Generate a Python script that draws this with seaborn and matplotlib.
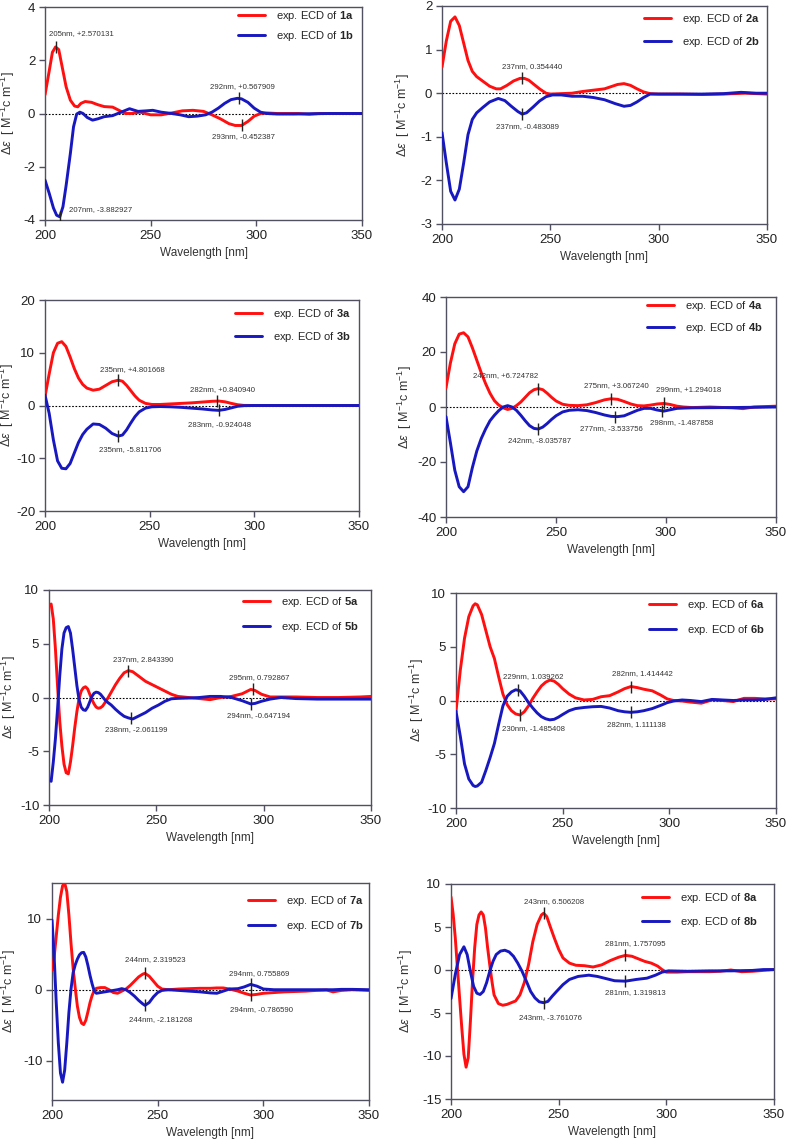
"""
Experimental ECD spectra of compounds 1a/1b ... 8a/8b, eight panels.
"""

import matplotlib
matplotlib.use("Agg")
import matplotlib.pyplot as plt
import seaborn as sns

# ---------------------------------------------------------------------------
# Spectra: wavelength (nm) and delta-epsilon values
# ---------------------------------------------------------------------------
WL_1A = [200, 202, 203.5, 205, 206.5, 208, 210, 212, 214, 215.5, 217, 219, 222, 225, 228, 232, 235, 238,
         241, 245, 250, 255, 260, 265, 270, 275, 279, 283, 287, 290, 293, 296, 299, 302, 305, 310, 320,
         325, 330, 340, 350]
DE_1A = [0.7, 1.6, 2.3, 2.5, 2.4, 1.8, 1.0, 0.5, 0.28, 0.25, 0.38, 0.45, 0.42, 0.33, 0.26, 0.24, 0.12, 0.0,
         0.0, 0.05, -0.05, -0.05, 0.02, 0.1, 0.12, 0.08, -0.05, -0.2, -0.38, -0.45, -0.45, -0.3, -0.1, 0.0,
         0.02, 0.0, 0.0, -0.03, 0.0, 0.0, 0.0]
WL_1B = [200, 202, 204, 205.5, 207, 208.5, 210, 212, 213.5, 215, 216.5, 218, 220, 222.5, 225, 228, 232, 236,
         240, 244, 248, 251, 255, 260, 264, 268, 272, 276, 279, 282, 285, 288, 291, 293, 296, 299, 302, 305,
         310, 318, 325, 335, 350]
DE_1B = [-2.5, -3.0, -3.55, -3.82, -3.88, -3.5, -2.7, -1.5, -0.5, -0.02, 0.05, 0.0, -0.15, -0.25, -0.2,
         -0.12, -0.08, 0.05, 0.18, 0.08, 0.1, 0.12, 0.05, 0.0, -0.05, -0.12, -0.1, -0.05, 0.05, 0.2, 0.38,
         0.52, 0.57, 0.55, 0.42, 0.2, 0.05, 0.0, -0.02, -0.02, -0.01, 0.0, 0.0]

WL_2A = [200, 202, 204, 206, 208, 210, 212, 214, 216, 219, 222, 225, 227, 230, 233, 236, 238, 240, 242, 245,
         248, 250, 255, 260, 265, 270, 275, 278, 281, 284, 287, 290, 293, 296, 300, 310, 320, 330, 340, 350]
DE_2A = [0.6, 1.2, 1.65, 1.75, 1.55, 1.15, 0.75, 0.5, 0.38, 0.27, 0.16, 0.1, 0.1, 0.18, 0.28, 0.34, 0.34,
         0.3, 0.22, 0.1, 0.0, -0.02, -0.01, 0.0, 0.04, 0.07, 0.1, 0.15, 0.2, 0.22, 0.18, 0.1, 0.03, -0.01,
         -0.02, -0.02, -0.03, -0.02, 0.0, -0.02]
WL_2B = [200, 202, 204, 206, 208, 210, 212, 214, 216, 219, 222, 226, 229, 232, 235, 237, 239, 242, 245, 248,
         251, 255, 260, 265, 270, 275, 280, 284, 287, 290, 293, 296, 300, 310, 320, 330, 338, 345, 350]
DE_2B = [-0.9, -1.6, -2.25, -2.45, -2.2, -1.6, -0.95, -0.6, -0.45, -0.32, -0.2, -0.12, -0.17, -0.3, -0.42,
         -0.48, -0.45, -0.32, -0.18, -0.08, -0.04, -0.04, -0.07, -0.07, -0.1, -0.15, -0.24, -0.3, -0.28,
         -0.2, -0.1, -0.02, -0.02, -0.02, -0.02, -0.01, 0.02, 0.0, 0.0]

WL_3 = [200, 202, 204, 206, 208, 210, 212, 214, 216, 218, 220, 223, 226, 229, 232, 235, 237, 239, 241, 243,
        245, 248, 251, 255, 260, 265, 270, 275, 280, 283, 286, 289, 292, 295, 300, 320, 350]
DE_3A = [1.7, 6, 10, 11.8, 12.1, 11.2, 9.2, 7, 5.2, 4, 3.3, 2.9, 3.1, 3.8, 4.5, 4.8, 4.6, 3.8, 2.8, 1.8,
         1.0, 0.4, 0.2, 0.2, 0.3, 0.4, 0.5, 0.65, 0.8, 0.84, 0.7, 0.4, 0.15, 0.02, 0.0, 0.0, 0.0]
DE_3B = [2.0, -1.5, -6.5, -10.5, -11.9, -12.0, -11, -9, -7, -5.5, -4.5, -3.5, -3.6, -4.3, -5.3, -5.8, -5.6,
         -4.6, -3.3, -2.1, -1.2, -0.5, -0.25, -0.2, -0.25, -0.35, -0.5, -0.65, -0.85, -0.92, -0.75, -0.45,
         -0.15, -0.03, 0.0, 0.0, 0.0]

WL_4 = [200, 202, 204, 206, 208, 210, 212, 214, 216, 218, 220, 222, 224, 226, 228, 230, 232, 234, 236, 238,
        240, 242, 244, 246, 248, 250, 253, 256, 260, 264, 268, 272, 275, 278, 281, 284, 287, 290, 293, 296,
        299, 302, 305, 308, 312, 320, 330, 335, 340, 350]
DE_4A = [7, 16, 23, 26.5, 27, 25.5, 21.5, 17, 12.5, 8.5, 5, 2.3, 0.7, -0.3, -0.9, -0.5, 0.5, 1.8, 3.5, 5.2,
         6.3, 6.7, 6.3, 5.0, 3.5, 2.2, 1.0, 0.6, 0.5, 0.8, 1.6, 2.6, 3.0, 2.8, 2.0, 1.1, 0.5, 0.4, 0.7, 1.1,
         1.3, 0.9, 0.3, 0.0, -0.2, 0.0, -0.3, -0.6, 0.0, 0.3]
DE_4B = [-3.5, -13, -23, -29, -30.8, -29, -22, -16, -11.5, -8, -5, -3, -1.3, 0, 0.5, 0, -1.2, -3.0, -5.0,
         -6.8, -7.8, -8.0, -7.3, -6.0, -4.5, -3.2, -1.8, -1.2, -1.0, -1.3, -2.0, -2.9, -3.4, -3.5, -3.2,
         -2.2, -1.2, -0.5, -0.5, -1.1, -1.5, -1.0, -0.5, -0.4, -0.3, -0.25, -0.2, -0.15, -0.1, 0.0]

WL_5 = [201, 202, 203, 204, 205, 206, 207, 208, 209, 210, 211, 212, 213, 214, 215, 216, 217, 218, 219, 220,
        221, 222, 223, 224, 225, 226, 227, 229, 231, 233, 235, 237, 239, 241, 243, 245, 248, 251, 254, 257,
        260, 265, 270, 275, 280, 285, 290, 292, 294, 296, 299, 303, 308, 315, 325, 335, 345, 350]
DE_5A = [8.7, 7.3, 4.5, 1.0, -2.2, -4.5, -6.2, -7.0, -7.1, -6.0, -4.5, -2.8, -1.3, -0.1, 0.6, 0.9, 1.0, 0.8,
         0.3, -0.2, -0.6, -0.9, -1.0, -0.95, -0.8, -0.5, -0.2, 0.5, 1.2, 1.8, 2.3, 2.5, 2.4, 2.1, 1.8, 1.5,
         1.2, 0.9, 0.6, 0.3, 0.1, 0.0, -0.1, -0.2, 0.0, 0.1, 0.35, 0.55, 0.75, 0.65, 0.3, 0.05, 0.05, 0.05,
         0.0, 0.0, 0.05, 0.1]
DE_5B = [-7.8, -6.0, -3.8, -1.0, 2.0, 4.5, 6.0, 6.5, 6.6, 6.0, 4.5, 2.8, 1.1, -0.2, -0.9, -1.15, -1.2, -0.9,
         -0.4, 0.1, 0.4, 0.5, 0.45, 0.3, 0.05, -0.2, -0.4, -0.7, -1.1, -1.45, -1.75, -1.9, -2.0, -1.8, -1.6,
         -1.4, -1.0, -0.7, -0.35, -0.12, -0.08, -0.05, 0.0, 0.1, 0.1, 0.0, -0.3, -0.45, -0.6, -0.55, -0.35,
         -0.15, 0.0, -0.1, -0.15, -0.15, -0.15, -0.15]

WL_6 = [200, 202, 204, 206, 208, 209, 210, 212, 214, 216, 218, 220, 222, 224, 226, 228, 230, 232, 234, 236,
        238, 240, 242, 244, 246, 248, 250, 253, 256, 260, 264, 268, 272, 276, 279, 282, 285, 288, 292, 296,
        299, 302, 306, 310, 315, 320, 325, 330, 335, 340, 345, 350]
DE_6A = [-1.0, 2.8, 5.8, 7.8, 8.8, 9.0, 8.9, 8.0, 6.5, 5.0, 3.9, 2.2, 0.6, -0.4, -0.95, -1.25, -1.35, -1.05,
         -0.5, 0.2, 0.8, 1.35, 1.7, 1.9, 1.8, 1.5, 1.1, 0.6, 0.25, 0.05, 0.1, 0.35, 0.45, 0.8, 1.1, 1.3,
         1.2, 1.05, 0.9, 0.5, 0.15, 0.0, -0.05, -0.15, -0.25, 0.05, 0.0, -0.1, 0.2, 0.2, 0.15, 0.15]
DE_6B = [-1.0, -3.3, -5.9, -7.3, -7.9, -8.0, -7.95, -7.6, -6.5, -5.3, -4.0, -2.2, -0.5, 0.4, 0.8, 1.0, 0.9,
         0.4, -0.2, -0.7, -1.15, -1.5, -1.7, -1.8, -1.75, -1.55, -1.3, -0.95, -0.75, -0.65, -0.58, -0.55,
         -0.7, -0.95, -1.05, -1.1, -1.05, -0.95, -0.75, -0.45, -0.2, -0.05, 0.05, 0.0, -0.1, 0.1, 0.05, 0.0,
         0.05, 0.05, 0.1, 0.25]

WL_7 = [200, 201, 202, 203, 204, 205, 206, 207, 208, 209, 210, 211, 212, 213, 214, 215, 216, 217, 218, 219,
        220, 221, 223, 225, 227, 229, 231, 233, 235, 237, 239, 241, 243, 244, 246, 248, 250, 252, 255, 260,
        265, 270, 275, 278, 281, 284, 288, 291, 294, 297, 300, 305, 310, 315, 320, 325, 330, 333, 337, 342,
        350]
DE_7A = [2.7, 4.5, 7.5, 10.5, 13, 14.6, 15.0, 13.8, 10.5, 6.5, 3.0, 0.2, -2.3, -3.9, -4.7, -4.9, -4.3, -3.1,
         -1.8, -0.8, -0.1, 0.2, 0.3, 0.3, 0.0, -0.4, -0.5, -0.2, 0.1, 0.6, 1.2, 1.8, 2.2, 2.3, 1.9, 1.2,
         0.5, 0.1, 0.0, 0.1, 0.15, 0.2, 0.2, 0.25, 0.25, 0.1, -0.2, -0.5, -0.75, -0.65, -0.5, -0.4, -0.3,
         -0.25, -0.2, -0.1, -0.05, -0.3, -0.1, 0.0, -0.1]
DE_7B = [9.8, 4.8, -1.8, -7.5, -11.7, -13.0, -11.3, -7.5, -3.2, 0.1, 2.4, 3.5, 4.3, 4.9, 5.2, 5.25, 4.6,
         3.4, 2.0, 0.8, -0.2, -0.5, -0.4, -0.3, -0.2, -0.1, 0.0, 0.15, 0.0, -0.4, -0.9, -1.5, -2.0, -2.2,
         -1.8, -1.0, -0.4, -0.1, 0.0, -0.1, -0.2, -0.3, -0.45, -0.5, -0.2, 0.1, 0.15, 0.4, 0.75, 0.5, 0.1,
         0.0, 0.0, 0.0, 0.0, 0.0, 0.0, 0.0, 0.05, 0.05, 0.0]

WL_8A = [200, 201, 202, 203, 204, 205, 206, 207, 208, 209, 210, 211, 212, 213, 214, 215, 216, 217, 218, 219,
         220, 222, 224, 226, 228, 230, 232, 234, 236, 238, 240, 242, 243, 244.5, 246, 248, 250, 252, 255, 258,
         262, 266, 270, 274, 278, 281, 284, 287, 290, 293, 296, 298, 300, 305, 310, 315, 320, 325, 330, 335,
         340, 345, 350]
DE_8A = [8.5, 6.5, 3.7, 0.2, -3.3, -6.7, -9.8, -11.3, -10.2, -6.0, -1.3, 2.6, 5.3, 6.4, 6.75, 6.4, 4.9, 2.6,
         0.6, -1.3, -2.9, -3.9, -4.1, -4.0, -3.8, -3.6, -2.9, -1.5, 0.6, 3.3, 5.3, 6.4, 6.6, 6.2, 5.1, 3.7,
         2.4, 1.4, 0.8, 0.55, 0.5, 0.35, 0.6, 1.1, 1.5, 1.7, 1.6, 1.3, 1.0, 0.8, 0.45, 0.05, -0.25, -0.25,
         -0.2, -0.2, -0.2, -0.15, 0.0, -0.2, -0.15, -0.05, 0.05]
WL_8B = [200, 202, 204, 206, 207.5, 209, 210.5, 212, 213.5, 215, 216.5, 218, 219.5, 221, 223, 225, 227, 229,
         231, 233, 235, 237, 239, 241, 243, 245, 247, 249, 252, 255, 259, 264, 268, 272, 276, 281, 286, 291,
         295, 298, 301, 310, 320, 330, 340, 345, 350]
DE_8B = [-3.33, -0.5, 1.8, 2.7, 1.8, -0.15, -1.9, -2.7, -2.85, -2.5, -1.5, -0.15, 1.0, 1.8, 2.2, 2.3, 2.1,
         1.6, 0.8, -0.15, -1.3, -2.5, -3.25, -3.7, -3.8, -3.65, -3.05, -2.5, -1.7, -1.1, -0.75, -0.6, -0.75,
         -1.0, -1.25, -1.3, -1.1, -0.95, -0.6, -0.25, -0.1, -0.15, -0.1, -0.1, -0.05, 0.05, 0.05]

# Marked extrema (wavelength, value on the curve) and their labels
MARK_NM_1 = [205, 207, 292, 293]
MARK_DE_1 = [2.5, -3.88, 0.57, -0.45]
MARK_TXT_1 = ["205nm, +2.570131", "207nm, -3.882927", "292nm, +0.567909", "293nm, -0.452387"]
MARK_NM_2 = [237, 237]
MARK_DE_2 = [0.34, -0.48]
MARK_TXT_2 = ["237nm, 0.354440", "237nm, -0.483089"]
MARK_NM_3 = [235, 282, 283, 235]
MARK_DE_3 = [4.8, 0.84, -0.92, -5.8]
MARK_TXT_3 = ["235nm, +4.801668", "282nm, +0.840940", "283nm, -0.924048", "235nm, -5.811706"]
MARK_NM_4 = [242, 275, 299, 242, 277, 298]
MARK_DE_4 = [6.7, 3.0, 1.3, -8.0, -3.5, -1.5]
MARK_TXT_4 = ["242nm, +6.724782", "275nm, +3.067240", "299nm, +1.294018",
              "242nm, -8.035787", "277nm, -3.533756", "298nm, -1.487858"]
MARK_NM_5 = [237, 295, 238, 294]
MARK_DE_5 = [2.5, 0.75, -1.95, -0.6]
MARK_TXT_5 = ["237nm, 2.843390", "295nm, 0.792867", "238nm, -2.061199", "294nm, -0.647194"]
MARK_NM_6 = [229, 282, 230, 282]
MARK_DE_6 = [1.0, 1.3, -1.35, -1.1]
MARK_TXT_6 = ["229nm, 1.039262", "282nm, 1.414442", "230nm, -1.485408", "282nm, 1.111138"]
MARK_NM_7 = [244, 294, 244, 294]
MARK_DE_7 = [2.3, 0.75, -2.2, -0.75]
MARK_TXT_7 = ["244nm, 2.319523", "294nm, 0.755869", "244nm, -2.181268", "294nm, -0.786590"]
MARK_NM_8 = [243, 281, 243, 281]
MARK_DE_8 = [6.6, 1.7, -3.8, -1.3]
MARK_TXT_8 = ["243nm, 6.506208", "281nm, 1.757095", "243nm, -3.761076", "281nm, 1.319813"]

YTICKS_1 = [-4, -2, 0, 2, 4]
YTICKS_2 = [-3, -2, -1, 0, 1, 2]
YTICKS_3 = [-20, -10, 0, 10, 20]
YTICKS_4 = [-40, -20, 0, 20, 40]
YTICKS_5 = [-10, -5, 0, 5, 10]
YTICKS_6 = [-10, -5, 0, 5, 10]
YTICKS_7 = [-10, 0, 10]
YTICKS_8 = [-15, -10, -5, 0, 5, 10]
XTICKS = [200, 250, 300, 350]

# ---------------------------------------------------------------------------
# Layout (figure pixels) and label offsets (pixels)
# box = axes (left, top, right, bottom); leg = (handle x, first row y, row gap);
# ylx = x of the y-label centre
# ---------------------------------------------------------------------------
FIG_W, FIG_H = 787, 1146
RED = "#ff0f0f"
BLUE = "#1818c0"
FRAME = "#505060"

PANELS = [
    dict(cid="1", a=(WL_1A, DE_1A), b=(WL_1B, DE_1B), ylim=(-4, 4), yticks=YTICKS_1,
         marks=(MARK_NM_1, MARK_DE_1, MARK_TXT_1), box=(45, 7, 362, 220), leg=(238, 16, 20), ylx=11,
         offs=[(-7, 13, "left"), (9, 7, "left"), (3, 12, "center"), (2, -11, "center")]),
    dict(cid="2", a=(WL_2A, DE_2A), b=(WL_2B, DE_2B), ylim=(-3, 2), yticks=YTICKS_2,
         marks=(MARK_NM_2, MARK_DE_2, MARK_TXT_2), box=(442, 6, 767, 224), leg=(644, 19, 23), ylx=406,
         offs=[(10, 12, "center"), (5, -12, "center")]),
    dict(cid="3", a=(WL_3, DE_3A), b=(WL_3, DE_3B), ylim=(-20, 20), yticks=YTICKS_3,
         marks=(MARK_NM_3, MARK_DE_3, MARK_TXT_3), box=(45, 300, 359, 511), leg=(235, 314, 23), ylx=10,
         offs=[(14, 11, "center"), (6, 12, "center"), (1, -14, "center"), (12, -13, "center")]),
    dict(cid="4", a=(WL_4, DE_4A), b=(WL_4, DE_4B), ylim=(-40, 40), yticks=YTICKS_4,
         marks=(MARK_NM_4, MARK_DE_4, MARK_TXT_4), box=(446, 297, 776, 517), leg=(647, 306, 22), ylx=408,
         offs=[(-33, 13, "center"), (5, 13, "center"), (25, 14, "center"),
               (1, -12, "center"), (-4, -12, "center"), (20, -11, "center")]),
    dict(cid="5", a=(WL_5, DE_5A), b=(WL_5, DE_5B), ylim=(-10, 10), yticks=YTICKS_5,
         marks=(MARK_NM_5, MARK_DE_5, MARK_TXT_5), box=(49, 590, 371, 805), leg=(243, 602, 25), ylx=12,
         offs=[(15, 11, "center"), (6, 12, "center"), (6, -11, "center"), (8, -12, "center")]),
    dict(cid="6", a=(WL_6, DE_6A), b=(WL_6, DE_6B), ylim=(-10, 10), yticks=YTICKS_6,
         marks=(MARK_NM_6, MARK_DE_6, MARK_TXT_6), box=(456, 593, 776, 808), leg=(649, 605, 25), ylx=420,
         offs=[(15, 13, "center"), (12, 13, "center"), (13, -14, "center"), (6, -12, "center")]),
    dict(cid="7", a=(WL_7, DE_7A), b=(WL_7, DE_7B), ylim=(-15.5, 15), yticks=YTICKS_7,
         marks=(MARK_NM_7, MARK_DE_7, MARK_TXT_7), box=(52, 883, 369, 1100), leg=(248, 901, 25), ylx=12,
         offs=[(10, 14, "center"), (9, 11, "center"), (16, -14, "center"), (11, -14, "center")]),
    dict(cid="8", a=(WL_8A, DE_8A), b=(WL_8B, DE_8B), ylim=(-15, 10), yticks=YTICKS_8,
         marks=(MARK_NM_8, MARK_DE_8, MARK_TXT_8), box=(451, 884, 774, 1099), leg=(642, 898, 24), ylx=409,
         offs=[(10, 12, "center"), (10, 12, "center"), (7, -15, "center"), (10, -11, "center")]),
]

sns.set_theme(style="ticks")
plt.rcParams["font.family"] = ["Liberation Sans", "DejaVu Sans"]
plt.rcParams["mathtext.fontset"] = "custom"
plt.rcParams["mathtext.rm"] = "Liberation Sans"
plt.rcParams["mathtext.it"] = "Liberation Sans:italic"
plt.rcParams["mathtext.bf"] = "Liberation Sans:bold"
plt.rcParams["axes.unicode_minus"] = False

fig = plt.figure(figsize=(FIG_W / 100, FIG_H / 100), dpi=100)

for p in PANELS:
    l, t, r, b = p["box"]
    ax = fig.add_axes([l / FIG_W, 1 - b / FIG_H, (r - l) / FIG_W, (b - t) / FIG_H])

    ax.axhline(0, color="black", lw=0.8, ls=(0, (1.5, 1.5)), zorder=1)
    sns.lineplot(x=p["a"][0], y=p["a"][1], color=RED, lw=2.1, sort=False, estimator=None,
                 label=f"exp. ECD of $\\mathbf{{{p['cid']}a}}$", ax=ax, zorder=3)
    sns.lineplot(x=p["b"][0], y=p["b"][1], color=BLUE, lw=2.1, sort=False, estimator=None,
                 label=f"exp. ECD of $\\mathbf{{{p['cid']}b}}$", ax=ax, zorder=3)

    nm, de, txt = p["marks"]
    ax.plot(nm, de, ls="none", marker="|", ms=9, mew=1.0, color="#222222", zorder=5)
    for x, y, s, (dx, dy, ha) in zip(nm, de, txt, p["offs"]):
        ax.annotate(s, xy=(x, y), xytext=(dx, dy), textcoords="offset pixels",
                    ha=ha, va="center", fontsize=5.6, color="#333333", zorder=6)

    ax.set_xlim(200, 350)
    ax.set_ylim(*p["ylim"])
    ax.set_xticks(XTICKS)
    ax.set_yticks(p["yticks"])
    ax.set_xlabel("Wavelength [nm]", fontsize=8.5, color="#333333", labelpad=4)
    ax.set_ylabel(r"$\mathit{\Delta\varepsilon}$  [ M$^{-1}$c m$^{-1}$]", fontsize=9, color="#333333")
    # the rotated label is anchored at its right edge, so shift by half its height
    ax.yaxis.set_label_coords((p["ylx"] + 6 - l) / (r - l), 0.5)
    ax.tick_params(direction="out", length=4, width=1, colors=FRAME, labelsize=9.5,
                   labelcolor="#222222", pad=3)
    for side in ["left", "bottom", "top", "right"]:
        ax.spines[side].set_visible(True)
        ax.spines[side].set_color(FRAME)
        ax.spines[side].set_linewidth(1.0)

    lx, ly, gap = p["leg"]
    ax.legend(loc="upper left", bbox_to_anchor=(lx / FIG_W, 1 - (ly - 7) / FIG_H),
              bbox_transform=fig.transFigure, frameon=False, fontsize=8, handlelength=2.4,
              handletextpad=1.0, labelspacing=(gap - 14.5) / 11.1, borderpad=0, borderaxespad=0)

fig.savefig("out.png", dpi=100)
plt.close(fig)
